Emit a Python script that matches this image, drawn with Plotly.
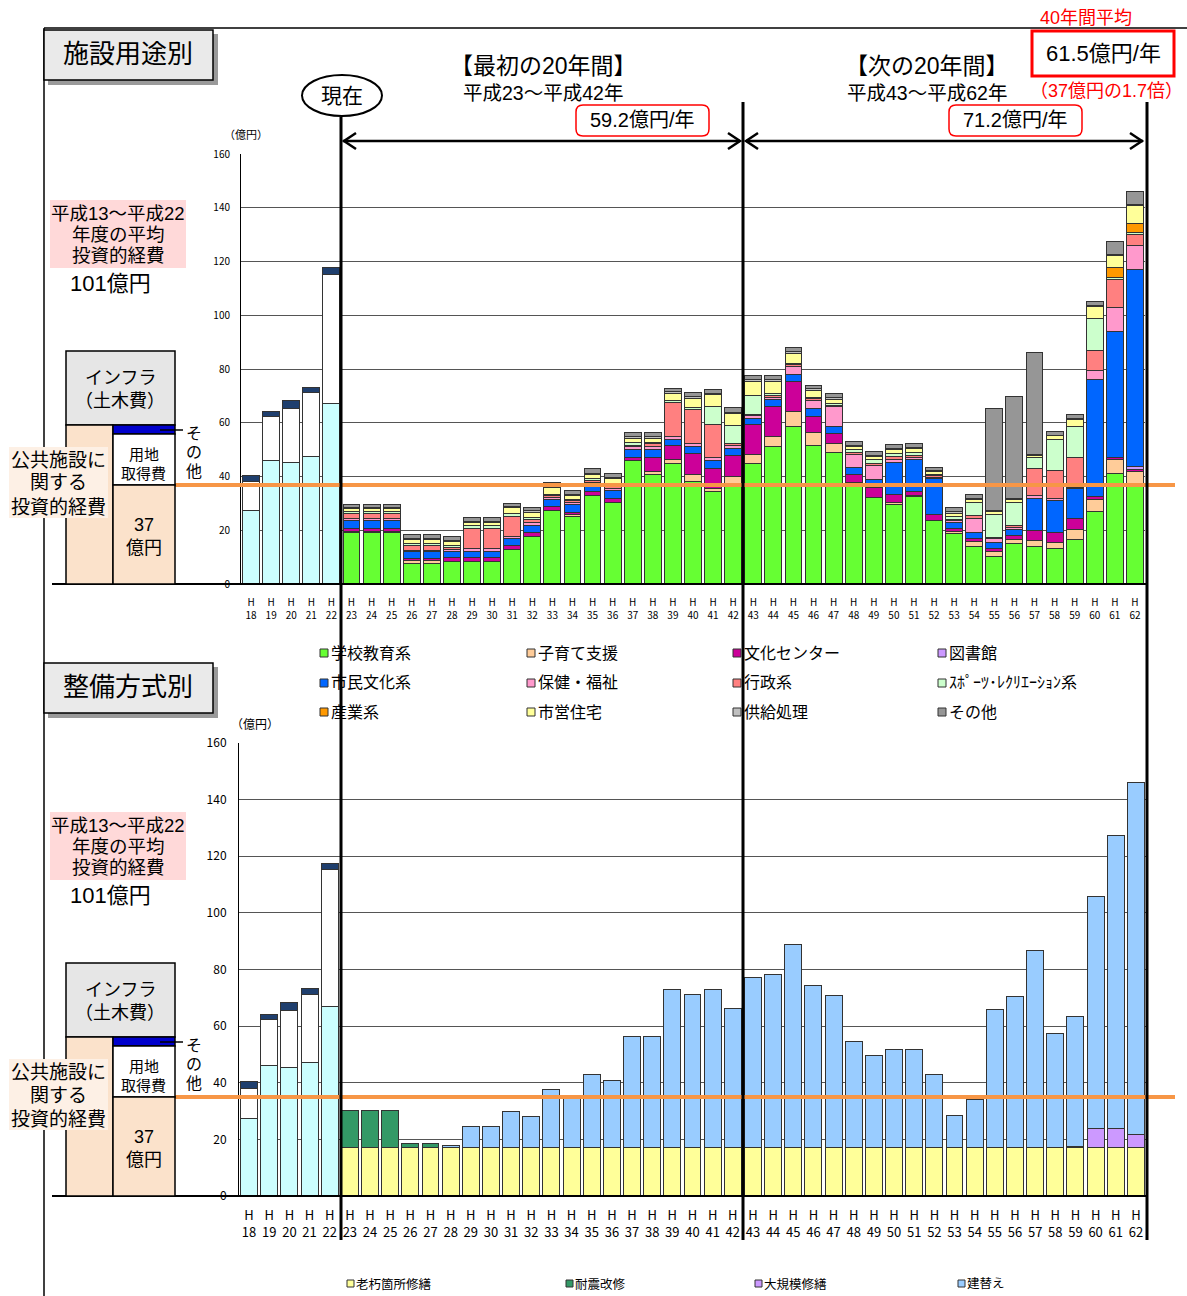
import plotly.graph_objects as go

W, H = 1187, 1296
FONT = "Noto Sans CJK JP"
TFONT = "Liberation Sans, Noto Sans CJK JP"

# ---------------- data ----------------
years = list(range(18, 63))
tick_labels = ["H<br>%d" % y for y in years]

# H18-H22 actual (shared by both charts)
past_civil = [27.2, 46.1, 45.3, 47.3, 67.1]      # light cyan
past_land = [10.9, 16.2, 20.1, 23.8, 48.2]       # white (用地取得費)
past_other = [2.2, 1.8, 2.8, 2.2, 2.3]           # navy (その他)

# H23-H62 by facility use
s_school = [19.2, 19.2, 19.2, 7.6, 7.6, 8.2, 8.2, 8.2, 12.7, 17.5, 27.2, 25.1, 33.0, 30.3, 45.9, 40.9, 44.7, 38.1, 34.4, 37.5,
            44.7, 51.1, 58.6, 51.7, 49.0, 37.7, 32.3, 29.7, 32.5, 23.6, 18.9, 13.9, 10.2, 14.9, 13.8, 13.3, 16.6, 26.9, 41.2, 37.5]
s_child = [0.4, 0.4, 0.4, 1.0, 1.0, 0, 0, 0, 0, 0, 0, 0.7, 0, 0, 0, 0.9, 1.5, 2.5, 1.2, 2.4,
           3.6, 3.7, 5.5, 4.6, 3.4, 0, 0, 0.6, 0.6, 0, 0.8, 1.9, 1.8, 1.8, 2.3, 2.1, 3.7, 4.6, 5.0, 4.5]
s_culture_c = [1.0, 1.0, 1.0, 0.9, 0.9, 1.5, 1.5, 1.5, 1.6, 1.7, 1.6, 0.7, 1.4, 1.6, 1.2, 5.3, 5.2, 7.8, 7.4, 8.1,
               10.9, 11.2, 11.2, 6.0, 3.7, 3.2, 3.7, 3.1, 1.5, 2.1, 0.8, 1.2, 1.2, 1.2, 3.8, 3.7, 3.9, 1.0, 1.0, 0.6]
s_library = [0] * 39 + [1.2]
s_citizen = [3.0, 3.0, 3.0, 2.5, 2.5, 2.5, 2.5, 2.5, 2.6, 2.5, 2.5, 2.9, 2.5, 2.8, 2.8, 3.0, 2.5, 2.9, 3.1, 2.5,
             2.5, 2.5, 2.5, 2.9, 2.5, 2.5, 2.7, 11.9, 11.6, 13.5, 2.5, 2.2, 2.1, 2.4, 11.9, 11.9, 11.5, 43.7, 46.6, 73.3]
s_health = [0.9, 0.9, 0.9, 0.6, 0.6, 0.7, 0.9, 0.9, 0.9, 1.2, 0.8, 0.9, 0.8, 0.8, 1.2, 1.2, 1.0, 1.0, 1.0, 1.0,
            0.9, 0.8, 3.1, 3.1, 7.4, 4.7, 5.3, 1.1, 0.9, 0.5, 0.6, 5.0, 1.5, 0.9, 1.0, 0.8, 0.3, 3.2, 9.2, 9.0]
s_admin = [1.8, 1.8, 1.8, 1.7, 1.7, 0.8, 7.6, 7.6, 7.4, 1.0, 0.8, 0.7, 0.8, 0.8, 0.6, 0.8, 12.8, 12.7, 12.1, 0.9,
           0.6, 1.0, 0.6, 0.6, 0.6, 0.8, 0.9, 1.0, 0.9, 0.8, 0.5, 1.3, 0.5, 0.7, 10.2, 10.4, 11.1, 7.4, 10.3, 4.0]
s_sports = [0.5, 0.5, 0.5, 0.9, 0.9, 0.8, 0.9, 0.9, 1.0, 0.8, 0.3, 0.6, 0.7, 0.5, 0.9, 0.5, 0.6, 0.7, 7.0, 6.5,
            7.1, 0.4, 0.6, 0.6, 0.6, 1.2, 1.3, 1.2, 0.8, 0.4, 1.0, 5.0, 8.4, 8.5, 4.0, 11.6, 11.5, 12.0, 0.9, 0.6]
s_industry = [0] * 38 + [3.5, 3.5]
s_housing = [1.2, 1.2, 1.2, 1.2, 1.2, 1.2, 1.2, 1.2, 2.1, 2.0, 2.6, 1.3, 1.6, 2.5, 1.6, 1.6, 2.7, 3.4, 4.3, 4.6,
             5.2, 4.8, 3.8, 2.6, 1.6, 1.1, 1.1, 1.3, 1.5, 0.8, 1.2, 1.0, 1.4, 1.2, 1.0, 1.3, 2.5, 4.6, 4.6, 6.6]
s_supply = [0.5] * 32 + [0.3] * 8
s_other = [1.0, 1.0, 1.0, 1.5, 1.5, 1.5, 1.3, 1.3, 1.3, 1.3, 1.3, 1.4, 1.6, 1.2, 1.6, 1.6, 1.4, 1.6, 1.4, 1.6,
           1.4, 1.7, 1.6, 1.4, 1.6, 1.5, 1.5, 1.5, 1.5, 1.3, 1.5, 1.4, 38.0, 37.8, 38.0, 1.5, 1.6, 1.3, 5.0, 4.8]

use_names = ["学校教育系", "子育て支援", "文化センター", "図書館",
             "市民文化系", "保健・福祉", "行政系", "ｽﾎﾟｰﾂ･ﾚｸﾘｴｰｼｮﾝ系",
             "産業系", "市営住宅", "供給処理", "その他"]
use_series = [s_school, s_child, s_culture_c, s_library, s_citizen, s_health,
              s_admin, s_sports, s_industry, s_housing, s_supply, s_other]
use_colors = ["#66FF33", "#FFCC99", "#CC0099", "#CC99FF", "#0066FF", "#FF99CC",
              "#FF8080", "#CCFFCC", "#FF9900", "#FFFF99", "#C0C0C0", "#969696"]

# H23-H62 by maintenance method
m_aging = [17.1] * 40
m_seismic = [13.2, 13.2, 13.2, 1.6, 1.6] + [0] * 35
m_major = [0] * 36 + [0.3, 6.9, 6.7, 4.5]
m_rebuild = [0, 0, 0, 0, 0, 0.8, 7.6, 7.6, 12.9, 11.1, 20.6, 17.9, 25.7, 23.8, 39.4, 39.2, 55.8, 54.0, 55.8, 49.1,
             60.2, 61.1, 71.7, 57.3, 53.8, 37.3, 32.4, 34.7, 34.5, 25.8, 11.2, 16.9, 48.7, 53.2, 69.7, 40.3, 45.9, 81.9, 103.5, 124.3]
method_names = ["老朽箇所修繕", "耐震改修", "大規模修繕", "建替え"]
method_series = [m_aging, m_seismic, m_major, m_rebuild]
method_colors = ["#FFFF99", "#339966", "#CC99FF", "#99CCFF"]

# ---------------- helpers ----------------
def px(x):
    return x / W

def py(y):
    return 1 - y / H

shapes = []
annots = []

def line(x0, y0, x1, y1, color="black", width=1):
    shapes.append(dict(type="line", xref="paper", yref="paper", x0=px(x0), y0=py(y0),
                       x1=px(x1), y1=py(y1), line=dict(color=color, width=width), layer="above"))

def rect(x0, y0, x1, y1, fill, lc="black", lw=1, layer="above"):
    shapes.append(dict(type="rect", xref="paper", yref="paper", x0=px(x0), y0=py(y1),
                       x1=px(x1), y1=py(y0), fillcolor=fill,
                       line=dict(color=lc, width=lw), layer=layer))

def rrect(x0, y0, x1, y1, r, color, lw):
    X0, X1 = px(x0), px(x1)
    Y0, Y1 = py(y0), py(y1)
    rx, ry = r / W, r / H
    p = (f"M {X0+rx},{Y0} L {X1-rx},{Y0} Q {X1},{Y0} {X1},{Y0-ry} "
         f"L {X1},{Y1+ry} Q {X1},{Y1} {X1-rx},{Y1} L {X0+rx},{Y1} "
         f"Q {X0},{Y1} {X0},{Y1+ry} L {X0},{Y0-ry} Q {X0},{Y0} {X0+rx},{Y0} Z")
    shapes.append(dict(type="path", xref="paper", yref="paper", path=p,
                       fillcolor="white", line=dict(color=color, width=lw), layer="above"))

def path(pts, color="black", width=2):
    p = "M " + " L ".join(f"{px(a)},{py(b)}" for a, b in pts)
    shapes.append(dict(type="path", xref="paper", yref="paper", path=p,
                       line=dict(color=color, width=width), layer="above"))

def text(x, y, s, size, color="black", xanchor="center"):
    annots.append(dict(x=px(x), y=py(y), xref="paper", yref="paper", text=s,
                       showarrow=False, xanchor=xanchor, yanchor="middle", align="center",
                       font=dict(family=TFONT, size=size, color=color), borderpad=0, borderwidth=0))

# ---------------- figure ----------------
fig = go.Figure()
xs_past = list(range(5))
xs_fut = list(range(5, 45))

for ax, ay in (("x", "y"), ("x2", "y2")):
    for vals, col in ((past_civil, "#CCFFFF"), (past_land, "#FFFFFF"), (past_other, "#1F3F6E")):
        fig.add_trace(go.Bar(x=xs_past, y=vals, xaxis=ax, yaxis=ay,
                             marker=dict(color=col, line=dict(color="#333333", width=1)),
                             showlegend=False))

for i in range(12):
    fig.add_trace(go.Bar(x=xs_fut, y=use_series[i], name=use_names[i], xaxis="x", yaxis="y",
                         marker=dict(color=use_colors[i], line=dict(color="#333333", width=1)),
                         showlegend=False))

for nm, vals, col in zip(method_names, method_series, method_colors):
    fig.add_trace(go.Bar(x=xs_fut, y=vals, name=nm, xaxis="x2", yaxis="y2",
                         marker=dict(color=col, line=dict(color="#333333", width=1)),
                         showlegend=False))

# ---------------- decorations ----------------
line(44, 28, 1187, 28, width=1.5)
line(44, 28, 44, 1296, width=1.5)

line(52, 584, 1146, 584, width=2)
line(52, 1196, 1146, 1196, width=2)

line(175, 485, 1175, 485, color="#F79646", width=4)
line(175, 1097, 1175, 1097, color="#F79646", width=4)

line(341, 117, 341, 1240, width=3)
line(743, 102, 743, 1240, width=3)
line(1147, 102, 1147, 1240, width=3)

line(343, 141, 740, 141, width=2.5)
line(746, 141, 1143, 141, width=2.5)
path([(356, 133), (344, 141), (356, 149)], width=2.5)
path([(728, 133), (740, 141), (728, 149)], width=2.5)
path([(758, 133), (746, 141), (758, 149)], width=2.5)
path([(1130, 133), (1142, 141), (1130, 149)], width=2.5)

shapes.append(dict(type="circle", xref="paper", yref="paper", x0=px(302), x1=px(382),
                   y0=py(116), y1=py(75), fillcolor="white", line=dict(color="black", width=2), layer="above"))
text(342, 95, "現在", 21)

for (y0, label) in ((30, "施設用途別"), (663, "整備方式別")):
    rect(48, y0 + 4, 218, y0 + 55, "#9A9A9A", lc="#9A9A9A", lw=0)
    rect(44, y0, 213, y0 + 50, "#EAEAEA", lw=1.5)
    text(128, y0 + 24, label, 26)

text(543, 66, "【最初の20年間】", 23)
text(543, 93, "平成23～平成42年", 19.5)
text(927, 66, "【次の20年間】", 23)
text(927, 93, "平成43～平成62年", 19.5)
rrect(576, 105, 709, 136, 7, "#FF0000", 1.5)
text(642, 120, "59.2億円/年", 20)
rrect(949, 105, 1082, 136, 7, "#FF0000", 1.5)
text(1015, 120, "71.2億円/年", 20)

text(1086, 18, "40年間平均", 18, color="#FF0000")
rect(1032, 31, 1174, 76, "white", lc="#FF0000", lw=3)
text(1103, 54, "61.5億円/年", 22)
text(1106, 91, "（37億円の1.7倍）", 18, color="#FF0000")

text(246, 135, "（億円）", 11)
text(255, 725, "（億円）", 12)

for off in (0, 612):
    rect(50, 200 + off, 186, 268 + off, "#FFD9D9", lc="#FFD9D9", lw=0)
    text(118, 213 + off, "平成13～平成22", 18.5)
    text(118, 234 + off, "年度の平均", 18.5)
    text(118, 255 + off, "投資的経費", 18.5)
    text(110, 283 + off, "101億円", 22)
    rect(66, 351 + off, 175, 425 + off, "#E6E6E6", lw=1.5)
    text(120, 378 + off, "インフラ", 18)
    text(120, 401 + off, "（土木費）", 18)
    rect(66, 425 + off, 113, 584 + off, "#FBE2CB", lw=1.5)
    rect(113, 425 + off, 175, 434 + off, "#0000CC", lw=1.5)
    rect(113, 434 + off, 175, 485 + off, "#FFFFFF", lw=1.5)
    rect(113, 485 + off, 175, 584 + off, "#FBE2CB", lw=1.5)
    text(144, 454 + off, "用地", 15)
    text(143, 473 + off, "取得費", 15)
    text(144, 525 + off, "37", 18)
    text(144, 548 + off, "億円", 18)
    line(160, 430 + off, 183, 430 + off, width=1.5)
    text(194, 433 + off, "そ", 16)
    text(194, 452 + off, "の", 16)
    text(194, 471 + off, "他", 16)
    rect(9, 447 + off, 108, 518 + off, "#FDF0E5", lc="#FDF0E5", lw=0)
    text(58, 460 + off, "公共施設に", 19)
    text(58, 483 + off, "関する", 19)
    text(58, 507 + off, "投資的経費", 19)

leg_cols = [320, 527, 733, 938]
leg_rows = [653, 683, 712]
for k in range(12):
    r, c = divmod(k, 4)
    x0, yc = leg_cols[c], leg_rows[r]
    rect(x0, yc - 4, x0 + 8, yc + 4, use_colors[k], lc="#333333", lw=1)
    text(x0 + 11, yc, use_names[k], 16, xanchor="left")

mcols = [347, 566, 755, 958]
for k in range(4):
    x0 = mcols[k]
    rect(x0, 1280, x0 + 7, 1287, method_colors[k], lc="#333333", lw=1)
    text(x0 + 9, 1284, method_names[k], 12.5, xanchor="left")

# ---------------- layout ----------------
grid = "#555555"
clear = "rgba(0,0,0,0)"
common_x = dict(range=[-0.5, 44.5], tickmode="array", tickvals=list(range(45)), ticktext=tick_labels,
                tickangle=0, showgrid=False, zeroline=False, automargin=False, fixedrange=True,
                ticks="outside", tickcolor=clear)
common_y = dict(range=[0, 160], tickvals=list(range(0, 161, 20)), showgrid=True, gridcolor=grid,
                gridwidth=1, showline=True, linecolor="black", linewidth=1, zeroline=False,
                automargin=False, fixedrange=True, ticks="outside", tickcolor=clear)
fig.update_layout(
    width=W, height=H, autosize=False,
    margin=dict(l=0, r=0, t=0, b=0, pad=0, autoexpand=False),
    paper_bgcolor="white", plot_bgcolor="white",
    barmode="stack", bargap=0.16,
    font=dict(family=FONT, color="black"),
    showlegend=False,
    xaxis=dict(domain=[px(241), px(1145)], anchor="y", ticklen=9,
               tickfont=dict(size=10, family=FONT, color="black"), **common_x),
    yaxis=dict(domain=[py(584), py(154)], anchor="x", ticklen=8,
               tickfont=dict(size=10, family=FONT, color="black"), **common_y),
    xaxis2=dict(domain=[px(239), px(1146)], anchor="y2", ticklen=7,
                tickfont=dict(size=13, family=FONT, color="black"), **common_x),
    yaxis2=dict(domain=[py(1196), py(743)], anchor="x2", ticklen=9,
                tickfont=dict(size=12, family=FONT, color="black"), **common_y),
    shapes=shapes, annotations=annots,
)

fig.write_html(
    "out.html",
    config={"displayModeBar": False},
    post_script="document.body.style.margin='0px';document.body.style.padding='0px';"
                "document.documentElement.style.overflow='hidden';",
)
